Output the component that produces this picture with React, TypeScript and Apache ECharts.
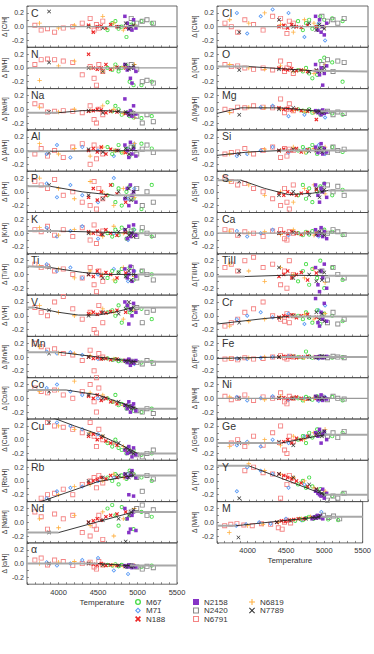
import React, { useEffect, useRef } from "react";
import * as echarts from "echarts";

// ---------- panels & ticks ----------
const LEFT_PANELS = ["C", "N", "Na", "Al", "P", "K", "Ti", "V", "Mn", "Co", "Cu", "Rb", "Nd", "α"];
const RIGHT_PANELS = ["CI", "O", "Mg", "Si", "S", "Ca", "TiII", "Cr", "Fe", "Ni", "Ge", "Y", "M"];
const PANELS = [...LEFT_PANELS, ...RIGHT_PANELS];
const X_TICK_LABELS = [4000, 4500, 5000, 5500];
const Y_TICK_LABELS = [-0.2, 0.0, 0.2];
const CLUSTERS = ["N6791", "M71", "M67", "N6819", "N188", "N2420", "N2158", "N7789"];

// ---------- star temperatures per cluster ----------
const TEFF_N6791 = [3700, 3780, 3860, 3950, 4060, 4180, 4300, 4400, 4450, 4480, 4510, 4560];
const TEFF_M67 = [4620, 4680, 4720, 4760, 4800, 4860, 4900, 4950, 5050, 5180];
const TEFF_M71 = [3850, 3980, 4150, 4300, 4500, 4700, 4880, 4960];
const TEFF_N188 = [4380, 4440, 4490, 4540, 4600, 4660, 4740, 4850];
const TEFF_N2158 = [4840, 4870, 4890, 4910, 4930, 4950, 4980];
const TEFF_N2420 = [4920, 4990, 5060, 5120, 5200];
const TEFF_N6819 = [3760, 4000, 4200, 4400, 4560, 4700, 4820, 4960];
const TEFF_N7789 = [3880, 4380, 4560, 4760, 4850, 4890, 4920, 4950];

// ---------- Δ[X/H] in hundredths, panel order = PANELS ("x" = no value, "-" = not shown) ----------
const D_N6791 = [
  "2,-5,-3,-8,-2,0,5,12,-5,3,-2,8",
  "5,12,13,12,10,8,-10,2,-15,-25,5,-5",
  "8,5,-4,-3,-2,-3,-5,5,-15,-20,0,-8",
  "-5,3,-8,0,-10,5,10,-20,8,-12,2,-5",
  "15,10,5,18,-5,0,-15,-20,15,-25,5,-10",
  "5,2,10,-3,5,-5,8,-10,12,-15,0,3",
  "15,10,12,5,8,0,-5,10,-15,-25,5,-10",
  "12,5,0,20,28,10,-5,5,-20,-25,15,-10",
  "20,15,10,12,5,3,-5,10,-20,-30,5,0",
  "15,10,8,12,5,0,10,20,-5,-20,15,0",
  "x,x,25,20,18,15,10,25,5,-10,15,0",
  "x,-25,-20,-18,-12,-20,-5,0,5,-10,8,-3",
  "15,8,-10,12,5,10,-15,-20,-5,-10,10,-25",
  "5,8,-2,5,3,-3,0,2,-5,-8,3,-2",
  "5,0,-8,10,3,-5,15,12,0,-10,8,5",
  "5,2,3,0,-2,0,-3,10,-5,0,5,-8",
  "0,-2,3,2,5,3,2,15,-5,0,8,-2",
  "-5,-3,-2,3,-5,0,5,-10,3,-8,2,0",
  "20,15,10,12,5,0,-10,-20,5,-15,-25,10",
  "5,3,-3,2,0,-5,3,5,-8,-10,2,0",
  "10,15,5,20,25,10,15,-15,5,-20,20,0",
  "-15,-10,-5,5,10,20,0,-5,-8,3,-10,0",
  "-3,-2,-4,-1,-3,-2,0,2,-1,-3,1,0",
  "3,-2,0,5,-3,2,0,8,-5,-8,3,0",
  "x,-5,0,-10,5,-8,10,20,-15,-20,5,-3",
  "x,x,x,15,20,12,10,-25,5,-5,8,0",
  "-5,-3,-2,-4,-5,-2,-3,-8,-10,0,3,-1",
];
const D_M67 = [
  "-5,5,8,-3,0,-15,3,6,8,5",
  "0,-3,5,-5,0,3,-20,-25,-25,-20",
  "10,-3,5,0,-8,-5,-10,-12,-13,-10",
  "5,-5,0,8,-3,2,-8,5,10,3",
  "-5,10,-15,5,-20,0,8,-10,-25,10",
  "0,-5,5,-3,8,-8,0,5,3,-5",
  "-5,5,-10,3,8,-3,10,-8,5,0",
  "5,8,0,15,-10,12,5,8,10,-5",
  "-2,-4,-3,-6,-5,-7,-6,-8,-8,-7",
  "0,-5,5,-10,-8,-15,-12,-18,-20,-15",
  "-5,-10,0,-12,-15,-20,-18,-15,-22,-20",
  "5,0,10,-5,8,3,15,10,5,0",
  "20,25,10,-5,22,5,10,-10,15,8",
  "-2,-3,-1,-4,-2,-5,-3,-4,-5,-3",
  "8,-5,5,10,-3,0,15,10,12,8",
  "-3,-5,0,-8,-15,-10,10,15,8,-20",
  "0,-2,-3,0,-5,-3,-8,-5,-6,-8",
  "0,5,-3,2,8,-5,3,0,5,-2",
  "-5,10,-10,5,-15,0,8,12,-5,3",
  "0,-3,2,-2,3,0,-2,5,2,-3",
  "-10,5,15,-15,8,-5,20,-20,10,-8",
  "0,-5,5,-3,-10,8,-12,3,0,-8",
  "0,-1,8,1,-1,0,1,0,-1,0",
  "0,-3,2,0,-2,3,-1,0,2,-3",
  "0,5,-5,10,3,15,8,12,5,10",
  "-5,0,-10,5,-8,-15,-12,-20,-22,-18",
  "2,5,3,6,8,5,9,7,4,3",
];
const D_M71 = [
  "-", "-", "-",
  "-5,8,-10,5,0,-8,3,10",
  "12,-8,10,-5,-15,20,-10,5",
  "8,-5,3,10,-8,0,-10,5",
  "15,5,10,-5,0,8,-10,5",
  "-",
  "8,5,7,3,-3,-4,-8,-10",
  "15,20,10,5,0,-5,-10,-15",
  "x,25,20,15,8,-5,-15,-20",
  "-25,-15,-10,-8,0,5,10,8",
  "-",
  "2,-3,0,5,8,-10,-15,-5",
  "20,-10,15,25,20,-15,5,-20",
  "-",
  "x,x,3,5,-10,-8,-2,-12",
  "-8,-5,0,5,-3,2,8,-5",
  "-",
  "3,-5,0,5,-3,0,-5,2",
  "-",
  "-5,0,5,-2,3,-12,8,15",
  "-2,-3,-1,0,1,0,-2,0",
  "2,-3,0,3,-2,0,-4,2",
  "-8,-3,-10,0,-5,5,10,8",
  "-15,20,15,10,-10,-5,-18,-20",
  "-5,-3,0,-2,5,3,8,15",
];
const D_N188 = [
  "2,-8,0,1,-2,3,0,-1",
  "20,0,-2,0,5,-2,1,0",
  "-3,-2,0,-1,-5,-3,-4,-6",
  "0,3,-2,5,-5,2,0,-3",
  "-8,5,-12,0,-5,10,-3,-15",
  "2,0,3,-2,5,0,-3,1",
  "0,-3,5,-2,3,0,-5,2",
  "3,5,2,5,4,6,8,5",
  "0,-2,-1,-3,-2,-4,-3,-5",
  "3,0,5,-3,0,-5,-8,-10",
  "5,8,0,3,-2,-5,-8,-15",
  "-3,0,2,5,3,8,5,6",
  "0,2,5,3,8,10,12,15",
  "0,-1,-2,0,-3,-2,-3,-4",
  "0,2,-2,3,0,-1,2,0",
  "0,-2,-3,-1,-4,-3,-5,-4",
  "2,0,1,-1,0,-2,-3,-15",
  "0,2,-1,0,3,-2,1,0",
  "-2,-5,0,-3,-5,-2,0,3",
  "0,1,-1,2,0,-2,1,0",
  "-3,0,5,-5,0,3,-8,2",
  "-2,0,-1,1,-3,0,2,-2",
  "0,1,0,0,-1,0,1,0",
  "0,1,-1,0,2,0,-1,0",
  "-5,-3,0,-5,2,0,5,8",
  "10,8,5,3,0,-3,-8,-12",
  "0,2,1,3,4,5,5,6",
];
const D_N2158 = [
  "15,5,-3,0,-5,10,-2",
  "5,-3,0,-15,-22,0,-5",
  "15,-5,-8,-2,-10,5,-7",
  "8,0,-10,12,-5,3,-8",
  "-10,5,-20,10,-5,0,-15",
  "5,-8,10,-5,0,12,-3",
  "8,-5,0,12,-10,5,-3",
  "20,15,-12,10,0,18,5",
  "-5,-8,-3,-12,-6,-9,-5",
  "-10,-15,-5,-20,-12,-8,-18",
  "-15,-20,-10,-18,-25,-12,-22",
  "10,5,-20,8,15,-22,5",
  "20,5,-15,-10,10,15,-12",
  "-3,-5,-2,-4,-6,-3,-5",
  "15,-5,10,-8,0,-12,5",
  "5,-5,-10,0,-25,-8,3",
  "-2,-5,-3,-8,-1,-6,-4",
  "5,-3,0,10,-5,3,-2",
  "10,-5,-15,5,0,12,-8",
  "5,-3,0,8,-5,2,-8",
  "10,-15,-25,5,-5,15,-20",
  "25,-10,-15,5,-5,18,-8",
  "0,-1,1,0,-1,0,1",
  "3,-2,0,5,-3,1,-1",
  "10,5,15,-5,8,12,0",
  "-15,-18,-20,-22,-12,-25,-18",
  "5,8,6,10,7,9,5",
];
const D_N2420 = [
  "12,5,8,10,5",
  "5,-2,-20,-18,-22",
  "-5,-10,-20,-8,-18",
  "5,-5,2,8,-3",
  "-10,5,-20,0,-15",
  "3,-5,8,0,-3",
  "10,-5,5,0,-8",
  "15,12,-10,5,8",
  "-6,-8,-10,-5,-9",
  "-12,-18,-20,-15,-22",
  "-18,-22,-25,-20,-15",
  "10,5,-15,8,3",
  "15,20,25,10,18",
  "-3,-5,-8,-4,-6",
  "15,8,10,5,12",
  "5,12,-5,10,8",
  "-5,-3,-8,-4,-6",
  "3,-3,5,0,2",
  "5,10,0,8,-5",
  "3,0,5,2,-2",
  "5,-8,10,0,-5",
  "-3,-10,5,-12,-5",
  "0,-1,1,0,-1",
  "2,-2,3,0,-1",
  "8,5,10,3,12",
  "-20,-28,-22,-25,-18",
  "8,10,7,9,5",
];
const D_N6819 = [
  "5,-2,2,0,15,5,-5,3",
  "-18,3,10,0,-5,0,2,5",
  "3,-4,0,-2,5,0,-6,-12",
  "10,-5,3,-8,5,0,-3,10",
  "20,5,-10,15,0,-20,5,-8",
  "8,-3,5,0,-5,10,0,-5",
  "12,8,-5,5,0,-8,10,-3",
  "15,5,0,3,10,5,-5,8",
  "15,6,5,2,-2,-3,-5,-8",
  "10,12,25,8,5,-5,-10,-15",
  "x,20,15,10,5,-5,-10,-20",
  "x,-20,-8,-5,0,10,5,8",
  "5,-8,10,-5,15,-20,5,20",
  "0,2,3,1,-2,-3,-4,-3",
  "10,5,20,3,-8,10,5,0",
  "5,0,-2,3,-5,-3,-8,5",
  "-5,3,2,0,-2,-3,-5,-4",
  "-5,-3,2,0,5,-2,3,5",
  "15,10,-5,0,-15,5,10,-3",
  "3,0,2,-2,5,0,-3,2",
  "15,5,-10,10,0,-5,8,-12",
  "-15,-8,-5,-3,0,2,-5,3",
  "-2,-1,0,0,1,-1,0,0",
  "2,0,-2,3,0,-3,1,0",
  "-10,-5,0,-8,5,0,10,15",
  "x,25,15,10,5,0,-10,-15",
  "-15,-5,-3,0,3,5,8,6",
];
const D_N7789 = [
  "22,0,-2,0,5,-3,0,2",
  "8,0,-5,0,5,-2,0,3",
  "-4,-2,-5,-3,-4,-8,-6,-5",
  "-3,2,-2,0,3,-5,1,5",
  "10,-5,-10,0,-8,5,-12,0",
  "3,0,-2,2,5,-3,0,-5",
  "10,0,-5,3,-3,5,-8,0",
  "8,0,5,3,10,20,8,12",
  "5,0,-2,-4,-6,-5,-8,-7",
  "10,5,0,-5,-10,-12,-15,-14",
  "25,8,5,-5,-12,-15,-18,-20",
  "-28,0,5,8,10,5,12,8",
  "-15,0,3,5,-28,10,15,18",
  "0,0,-2,-3,-4,-3,-5,-4",
  "-8,10,0,5,-5,3,0,-3",
  "-3,-2,-4,-6,-3,-5,-4,0",
  "-8,0,2,-1,-4,-3,-5,-4",
  "-5,0,2,-1,0,3,-2,1",
  "15,-5,0,-5,5,-8,0,3",
  "-2,0,1,0,-2,2,0,-3",
  "5,10,-5,0,-10,5,-8,3",
  "-10,-3,0,-2,5,-5,3,-8",
  "-2,0,1,0,-1,0,1,0",
  "0,1,0,-1,2,0,-1,1",
  "-5,-3,-8,5,8,10,5,12",
  "-25,10,5,-5,-12,-15,-18,-20",
  "-22,0,2,5,7,6,8,9",
];

// ---------- trend lines (Teff, Δ) and fitted range ----------
const TRENDS: Record<string, number[][]> = {
  C: [[3600, 0], [5500, 0]],
  N: [[3600, 0], [5500, 0]],
  Na: [[3600, -0.05], [4000, -0.05], [4300, -0.02], [4600, -0.02], [4900, -0.05], [5500, -0.05]],
  Al: [[3600, -0.01], [3900, -0.01], [5000, 0.0], [5500, 0.0]],
  P: [[3600, 0.08], [3900, 0.08], [4300, 0.0], [4700, -0.05], [5500, -0.05]],
  K: [[3600, 0.03], [4000, 0.03], [5000, 0.0], [5500, 0.0]],
  Ti: [[3600, 0.12], [3900, 0.1], [4300, 0.03], [4600, 0.0], [5000, 0.0], [5500, 0.0]],
  V: [[3600, 0.12], [3700, 0.12], [4000, 0.05], [4250, 0.01], [4500, 0.01], [4700, 0.05], [4950, 0.12], [5500, 0.12]],
  Mn: [[3600, 0.07], [4000, 0.07], [5000, -0.07], [5500, -0.07]],
  Co: [[3600, 0.12], [4100, 0.12], [4500, 0.05], [5000, -0.15], [5500, -0.15]],
  Cu: [[3900, 0.33], [4200, 0.2], [4500, 0.08], [4800, -0.08], [5000, -0.2], [5500, -0.2]],
  Rb: [[3700, -0.33], [4500, -0.01], [4950, 0.08], [5500, 0.08]],
  Nd: [[3600, -0.15], [4000, -0.15], [4950, 0.15], [5500, 0.15]],
  "α": [[3600, 0.0], [4500, 0.0], [4900, -0.03], [5500, -0.03]],
  CI: [[3600, 0], [5500, 0]],
  O: [[3600, 0.02], [4000, 0.02], [4800, -0.04], [5500, -0.05]],
  Mg: [[3600, -0.06], [3900, 0.02], [4400, 0.02], [4900, -0.03], [5500, -0.03]],
  Si: [[3600, -0.07], [4000, -0.02], [4400, 0.0], [5500, 0.0]],
  S: [[3600, 0.17], [3900, 0.17], [4200, 0.05], [4500, -0.04], [4800, -0.02], [5000, 0.02], [5500, 0.02]],
  Ca: [[3600, 0], [5500, 0]],
  TiII: [[3600, -0.03], [3950, -0.03], [4500, -0.01], [5000, -0.02], [5500, -0.02]],
  Cr: [[3600, -0.12], [3900, -0.08], [4200, -0.04], [4500, -0.01], [5500, -0.01]],
  Fe: [[3600, -0.02], [4400, 0.0], [5500, 0.0]],
  Ni: [[3600, 0], [5500, 0]],
  Ge: [[3600, -0.05], [4400, -0.05], [4950, 0.07], [5500, 0.07]],
  Y: [[3600, 0.22], [4000, 0.22], [4950, -0.2], [5500, -0.2]],
  M: [[3600, -0.05], [3850, -0.05], [4950, 0.08], [5500, 0.08]],
};
const FIT_RANGE: Record<string, number[] | null> = {
  C: null, N: null, Na: [4000, 4900], Al: [3900, 5000], P: [3900, 4700], K: [4000, 5000],
  Ti: [3900, 5000], V: [3700, 4950], Mn: [4000, 5000], Co: [4100, 5000], Cu: [3900, 5000],
  Rb: [3700, 4950], Nd: [4000, 4950], "α": [4500, 4900], CI: null, O: [4000, 4800],
  Mg: [3600, 4900], Si: [3600, 4400], S: [3900, 5000], Ca: null, TiII: [3950, 5000],
  Cr: [3600, 4500], Fe: [3600, 4400], Ni: null, Ge: [4400, 4950], Y: [4000, 4950], M: [3850, 4950],
};

const TEFF: Record<string, number[]> = {
  N6791: TEFF_N6791, M67: TEFF_M67, M71: TEFF_M71, N188: TEFF_N188,
  N2158: TEFF_N2158, N2420: TEFF_N2420, N6819: TEFF_N6819, N7789: TEFF_N7789,
};
const DELTA: Record<string, string[]> = {
  N6791: D_N6791, M67: D_M67, M71: D_M71, N188: D_N188,
  N2158: D_N2158, N2420: D_N2420, N6819: D_N6819, N7789: D_N7789,
};

// ---------- presentation ----------
const SQ = "path://M0,0H10V10H0Z M1.8,1.8V8.2H8.2V1.8Z";
const RING = "path://M5,0A5,5 0 1,0 5,10A5,5 0 1,0 5,0Z M5,2.2A2.8,2.8 0 1,1 5,7.8A2.8,2.8 0 1,1 5,2.2Z";
const DIAM = "path://M5,0L10,5L5,10L0,5Z M5,2.6L2.6,5L5,7.4L7.4,5Z";
const XFAT = "path://M0,2L2,0L5,3L8,0L10,2L7,5L10,8L8,10L5,7L2,10L0,8L3,5Z";
const XTHIN = "path://M0,1.2L1.2,0L5,3.8L8.8,0L10,1.2L6.2,5L10,8.8L8.8,10L5,6.2L1.2,10L0,8.8L3.8,5Z";
const PLUS = "path://M4.1,0H5.9V4.1H10V5.9H5.9V10H4.1V5.9H0V4.1H4.1Z";
const STYLE: Record<string, { symbol: string; size: number; color: string }> = {
  N6791: { symbol: SQ, size: 5, color: "#f48484" },
  M71: { symbol: DIAM, size: 4.5, color: "#5b9bf5" },
  M67: { symbol: RING, size: 4.2, color: "#45dc45" },
  N6819: { symbol: PLUS, size: 4.5, color: "#ffb040" },
  N188: { symbol: XFAT, size: 4, color: "#ec2525" },
  N2420: { symbol: SQ, size: 5, color: "#8a8a8a" },
  N2158: { symbol: "rect", size: 3.5, color: "#8533c6" },
  N7789: { symbol: XTHIN, size: 4, color: "#333333" },
};

const FONT = "'Liberation Sans', Arial, sans-serif";
const LEFT_X = 26;
const RIGHT_X = 217;
const PANEL_W = 151;
const TOP_Y = 6;
const PANEL_H = 41.3;

const parse = (s: string): (number | null)[] =>
  s === "-" ? [] : s.split(",").map((t) => (t.trim() === "x" ? null : Number(t) / 100));

function buildOption() {
  const grid: any[] = [];
  const xAxis: any[] = [];
  const yAxis: any[] = [];
  const title: any[] = [];
  const series: any[] = [];

  PANELS.forEach((el, i) => {
    const isLeft = i < LEFT_PANELS.length;
    const row = isLeft ? i : i - LEFT_PANELS.length;
    const nRows = isLeft ? LEFT_PANELS.length : RIGHT_PANELS.length;
    const isBottom = row === nRows - 1;
    const left = isLeft ? LEFT_X : RIGHT_X;
    const top = TOP_Y + row * PANEL_H;

    grid.push({
      left, top, width: PANEL_W, height: PANEL_H,
      show: true, borderColor: "#444", borderWidth: 0.8, backgroundColor: "transparent",
    });
    xAxis.push({
      gridIndex: i, type: "value", min: 3600, max: 5500, interval: 100, position: "bottom",
      axisLine: { show: false, onZero: false },
      axisTick: { show: true, inside: true, length: 2, lineStyle: { color: "#444", width: 0.6 } },
      splitLine: { show: false },
      axisLabel: {
        show: isBottom, fontSize: 7.5, color: "#333", margin: 4, fontFamily: FONT,
        formatter: (v: number) => (X_TICK_LABELS.includes(Math.round(v)) ? String(Math.round(v)) : ""),
      },
      name: isBottom ? "Temperature" : "",
      nameLocation: "middle", nameGap: 14,
      nameTextStyle: { fontSize: 8, color: "#333", fontFamily: FONT },
    });
    yAxis.push({
      gridIndex: i, type: "value", min: -0.3, max: 0.3, interval: 0.1, position: "left",
      axisLine: { show: false, onZero: false },
      axisTick: { show: true, inside: true, length: 2, lineStyle: { color: "#444", width: 0.6 } },
      splitLine: { show: false },
      axisLabel: {
        fontSize: 7, color: "#333", margin: 3, fontFamily: FONT,
        formatter: (v: number) => {
          const m = Y_TICK_LABELS.find((t) => Math.abs(t - v) < 1e-6);
          return m === undefined ? "" : m.toFixed(1);
        },
      },
      name: `Δ [${el}/H]`, nameLocation: "middle", nameRotate: 90, nameGap: 17,
      nameTextStyle: { fontSize: 6.5, color: "#333", fontFamily: FONT },
    });
    title.push({
      text: el, left: left + 5, top: top + 1, padding: 0,
      textStyle: { fontSize: 10.5, fontWeight: "normal", color: "#333", fontFamily: FONT },
    });

    CLUSTERS.forEach((c) => {
      const vals = parse(DELTA[c][i]);
      const data: number[][] = [];
      vals.forEach((v, k) => {
        if (v !== null) data.push([TEFF[c][k], v]);
      });
      const st = STYLE[c];
      series.push({
        type: "scatter", name: c, xAxisIndex: i, yAxisIndex: i, data,
        symbol: st.symbol, symbolSize: st.size, itemStyle: { color: st.color, opacity: 1 },
        clip: true, silent: true, z: 2,
      });
    });

    const pts = TRENDS[el];
    const fr = FIT_RANGE[el];
    const segs: { data: number[][]; color: string; width: number }[] = [];
    if (!fr) {
      segs.push({ data: pts, color: "#9a9a9a", width: 1.2 });
    } else {
      const [lo, hi] = fr;
      const l = pts.filter((p) => p[0] <= lo);
      const m = pts.filter((p) => p[0] >= lo && p[0] <= hi);
      const r = pts.filter((p) => p[0] >= hi);
      if (l.length > 1) segs.push({ data: l, color: "#a8a8a8", width: 2 });
      if (r.length > 1) segs.push({ data: r, color: "#a8a8a8", width: 2 });
      if (m.length > 1) segs.push({ data: m, color: "#222", width: 0.9 });
    }
    segs.forEach((s) =>
      series.push({
        type: "line", xAxisIndex: i, yAxisIndex: i, data: s.data, symbol: "none",
        showSymbol: false, lineStyle: { color: s.color, width: s.width }, silent: true, z: 4, clip: true,
      })
    );
  });

  const legendBase = {
    orient: "vertical", top: 598, itemWidth: 6, itemHeight: 6, itemGap: 0.5, padding: 0,
    selectedMode: false,
    textStyle: { fontSize: 8, color: "#333", fontFamily: FONT, lineHeight: 8 },
  };
  const legend = [
    { ...legendBase, left: 135, data: ["M67", "M71", "N188"] },
    { ...legendBase, left: 193, data: ["N2158", "N2420", "N6791"] },
    { ...legendBase, left: 249, data: ["N6819", "N7789"] },
  ];

  return {
    animation: false,
    backgroundColor: "#ffffff",
    textStyle: { fontFamily: FONT },
    title, grid, xAxis, yAxis, series, legend,
  };
}

export default function App() {
  const ref = useRef<HTMLDivElement>(null);
  useEffect(() => {
    if (!ref.current) return;
    const chart = echarts.init(ref.current, null, { renderer: "svg" });
    chart.setOption(buildOption() as any);
    return () => chart.dispose();
  }, []);
  return (
    <div
      ref={ref}
      style={{ position: "fixed", left: 0, top: 0, width: 374, height: 654, background: "#fff" }}
    />
  );
}
